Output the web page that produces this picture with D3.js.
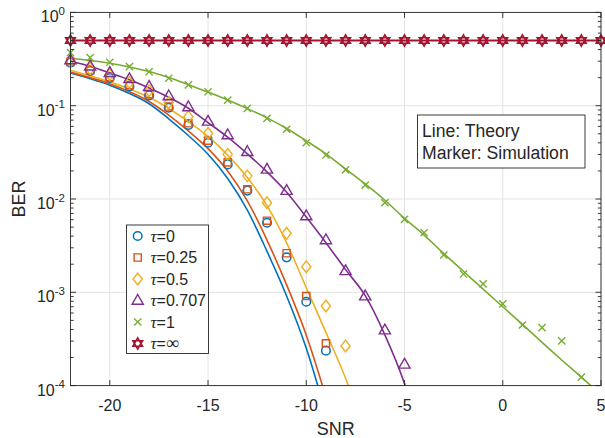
<!DOCTYPE html>
<html>
<head>
<meta charset="utf-8">
<script src="https://cdn.jsdelivr.net/npm/d3@7"></script>
<style>
  body { margin: 0; background: #fff; }
  text { font-family: "Liberation Sans", Arial, Helvetica, sans-serif; fill: #262626; }
</style>
</head>
<body>
<svg id="chart" width="605" height="438"></svg>
<script>
// ---- data ----
const snrGrid = [-22,-21,-20,-19,-18,-17,-16,-15,-14,-13,-12,-11,-10,-9,-8,-7,-6,-5,-4,-3,-2,-1,0,1,2,3,4,5];
const snrTicks = [-20, -15, -10, -5, 0, 5];
const berTickExponents = [0, -1, -2, -3, -4];
const tauLabels = ["0", "0.25", "0.5", "0.707", "1", "\u221E"];

// theory curves (values start at SNR = -22 dB, 1 dB step)
const theoryTau0    = [0.224,0.195,0.166,0.135,0.105,0.0724,0.0479,0.0302,0.0166,0.00759,0.00275,0.000912,0.000251,0.0000501];
const theoryTau025  = [0.229,0.200,0.172,0.141,0.111,0.0794,0.0537,0.0347,0.0200,0.00955,0.00363,0.00120,0.000347,0.0000759];
const theoryTau05   = [0.240,0.209,0.180,0.151,0.123,0.0933,0.0676,0.0468,0.0295,0.0170,0.00851,0.00339,0.00112,0.000372,0.000120,0.0000316];
const theoryTau0707 = [0.300,0.265,0.225,0.190,0.155,0.123,0.094,0.066,0.046,0.0305,0.0195,0.0118,0.0064,0.0034,0.00175,0.00092,0.00035,0.000105,0.00002];
const theoryTau1    = [0.320,0.305,0.285,0.260,0.232,0.200,0.168,0.140,0.115,0.093,0.074,0.057,0.042,0.0305,0.021,0.0145,0.0097,0.0062,0.0041,0.0026,0.00168,0.00108,0.0007,0.000454,0.00029,0.000188,0.000123,0.00008];
const theoryTauInf  = [0.5,0.5,0.5,0.5,0.5,0.5,0.5,0.5,0.5,0.5,0.5,0.5,0.5,0.5,0.5,0.5,0.5,0.5,0.5,0.5,0.5,0.5,0.5,0.5,0.5,0.5,0.5,0.5];

// simulated points (values start at SNR = -22 dB, 1 dB step)
const simTau0    = [0.290,0.236,0.198,0.161,0.129,0.095,0.0621,0.0401,0.0235,0.0123,0.00557,0.00237,0.000793,0.000237];
const simTau025  = [0.295,0.240,0.203,0.166,0.133,0.098,0.0648,0.0422,0.0247,0.0127,0.00585,0.00262,0.000912,0.000284];
const simTau05   = [0.300,0.250,0.215,0.178,0.145,0.108,0.0762,0.0506,0.0301,0.0177,0.00912,0.00429,0.00188,0.000713,0.000266];
const simTau0707 = [0.309,0.265,0.226,0.194,0.160,0.127,0.0968,0.068,0.0485,0.0321,0.0208,0.0123,0.00657,0.00364,0.0017,0.000912,0.000394,0.000169];
const simTau1    = [0.370,0.327,0.292,0.262,0.231,0.197,0.167,0.141,0.115,0.0938,0.0733,0.0559,0.0401,0.0296,0.0205,0.0141,0.00912,0.00606,0.00435,0.00251,0.00157,0.00123,0.00075,0.000446,0.000418,0.000301,0.000123];
const simTauInf  = [0.5,0.5,0.5,0.5,0.5,0.5,0.5,0.5,0.5,0.5,0.5,0.5,0.5,0.5,0.5,0.5,0.5,0.5,0.5,0.5,0.5,0.5,0.5,0.5,0.5,0.5,0.5,0.5];

const seriesColors = ["#0072BD", "#D95319", "#EDB120", "#7E2F8E", "#77AC30", "#A2142F"];
const markerTypes  = ["circle", "square", "diamond", "triangle", "cross", "hexagram"];

const theorySets = [theoryTau0, theoryTau025, theoryTau05, theoryTau0707, theoryTau1, theoryTauInf];
const simSets    = [simTau0, simTau025, simTau05, simTau0707, simTau1, simTauInf];

// ---- layout ----
const svg = d3.select("#chart");
const plot = { left: 70.5, right: 601, top: 12.4, bottom: 385.6 };
const axisColor = "#262626";

const x = d3.scaleLinear().domain([-22, 5]).range([plot.left, plot.right]);
const y = d3.scaleLog().domain([1e-4, 1]).range([plot.bottom, plot.top]);

svg.append("rect").attr("width", 605).attr("height", 438).attr("fill", "#fff");

svg.append("defs").append("clipPath").attr("id", "plotClip")
  .append("rect")
  .attr("x", plot.left).attr("y", plot.top)
  .attr("width", plot.right - plot.left).attr("height", plot.bottom - plot.top);

// grid
const grid = svg.append("g").attr("stroke", "#e3e3e3").attr("stroke-width", 1);
snrTicks.forEach(t => {
  grid.append("line").attr("x1", x(t)).attr("x2", x(t)).attr("y1", plot.top).attr("y2", plot.bottom);
});
berTickExponents.forEach(e => {
  const v = Math.pow(10, e);
  grid.append("line").attr("x1", plot.left).attr("x2", plot.right).attr("y1", y(v)).attr("y2", y(v));
});

// theory lines
const line = d3.line()
  .x((d, i) => x(snrGrid[i]))
  .y(d => y(d))
  .curve(d3.curveMonotoneX);

const lines = svg.append("g").attr("clip-path", "url(#plotClip)");
theorySets.forEach((vals, k) => {
  lines.append("path")
    .datum(vals)
    .attr("fill", "none")
    .attr("stroke", seriesColors[k])
    .attr("stroke-width", k === 5 ? 2 : 1.6)
    .attr("d", line);
});

// marker shapes
function markerPath(type) {
  switch (type) {
    case "square":   return "M-3.6,-3.6H3.6V3.6H-3.6Z";
    case "diamond":  return "M0,-5.8L4.6,0L0,5.8L-4.6,0Z";
    case "triangle": return "M0,-6L5.6,3.8L-5.6,3.8Z";
    case "cross":    return "M-3.6,-3.6L3.6,3.6M-3.6,3.6L3.6,-3.6";
    case "hexagram": return "M0,-5.6L4.85,2.8L-4.85,2.8ZM0,5.6L4.85,-2.8L-4.85,-2.8Z";
  }
  return null;
}
function drawMarker(g, type, color) {
  if (type === "circle") {
    g.append("circle").attr("r", 4.3).attr("fill", "none").attr("stroke", color).attr("stroke-width", 1.5);
  } else {
    g.append("path").attr("d", markerPath(type)).attr("fill", "none")
      .attr("stroke", color).attr("stroke-width", type === "hexagram" ? 1.6 : 1.4)
      .attr("stroke-linejoin", "miter");
  }
}

const markers = svg.append("g");
simSets.forEach((vals, k) => {
  vals.forEach((v, i) => {
    const g = markers.append("g").attr("transform", `translate(${x(snrGrid[i])},${y(v)})`);
    drawMarker(g, markerTypes[k], seriesColors[k]);
  });
});

// axes box and ticks
const axes = svg.append("g").attr("stroke", axisColor).attr("stroke-width", 0.9).attr("fill", "none");
axes.append("rect")
  .attr("x", plot.left).attr("y", plot.top)
  .attr("width", plot.right - plot.left).attr("height", plot.bottom - plot.top);

snrTicks.forEach(t => {
  axes.append("line").attr("x1", x(t)).attr("x2", x(t)).attr("y1", plot.bottom).attr("y2", plot.bottom - 5.5);
  axes.append("line").attr("x1", x(t)).attr("x2", x(t)).attr("y1", plot.top).attr("y2", plot.top + 5.5);
});
berTickExponents.forEach(e => {
  const yy = y(Math.pow(10, e));
  axes.append("line").attr("x1", plot.left).attr("x2", plot.left + 5.5).attr("y1", yy).attr("y2", yy);
  axes.append("line").attr("x1", plot.right).attr("x2", plot.right - 5.5).attr("y1", yy).attr("y2", yy);
});
for (let e = -4; e < 0; e++) {
  for (let m = 2; m <= 9; m++) {
    const yy = y(m * Math.pow(10, e));
    axes.append("line").attr("x1", plot.left).attr("x2", plot.left + 3.2).attr("y1", yy).attr("y2", yy);
    axes.append("line").attr("x1", plot.right).attr("x2", plot.right - 3.2).attr("y1", yy).attr("y2", yy);
  }
}

// tick labels
const tickLabels = svg.append("g");
snrTicks.forEach(t => {
  tickLabels.append("text")
    .attr("x", x(t)).attr("y", plot.bottom + 25)
    .attr("text-anchor", "middle")
    .attr("font-size", 16)
    .text(t);
});
berTickExponents.forEach(e => {
  const yy = y(Math.pow(10, e));
  const txt = tickLabels.append("text")
    .attr("x", 65).attr("y", yy + 10)
    .attr("text-anchor", "end")
    .attr("font-size", 16);
  txt.append("tspan").text("10");
  txt.append("tspan").attr("dy", -7.5).attr("font-size", 11.5).text(e);
});

// axis titles
svg.append("text")
  .attr("x", (plot.left + plot.right) / 2).attr("y", 435)
  .attr("text-anchor", "middle").attr("font-size", 18)
  .text("SNR");
svg.append("text")
  .attr("transform", `translate(25,${(plot.top + plot.bottom) / 2}) rotate(-90)`)
  .attr("text-anchor", "middle").attr("font-size", 18)
  .text("BER");

// annotation box
const note = svg.append("g");
note.append("rect")
  .attr("x", 417.5).attr("y", 115).attr("width", 167.5).attr("height", 53)
  .attr("fill", "#fff").attr("stroke", axisColor).attr("stroke-width", 0.9);
note.append("text").attr("x", 422).attr("y", 136.5).attr("font-size", 17.6).text("Line: Theory");
note.append("text").attr("x", 422).attr("y", 158.5).attr("font-size", 17.6).text("Marker: Simulation");

// legend
const legend = svg.append("g");
legend.append("rect")
  .attr("x", 126.5).attr("y", 225).attr("width", 82).attr("height", 128.5)
  .attr("fill", "#fff").attr("stroke", axisColor).attr("stroke-width", 0.9);
tauLabels.forEach((lab, k) => {
  const cy = 236 + k * 21.5;
  const g = legend.append("g").attr("transform", `translate(137.7,${cy})`);
  drawMarker(g, markerTypes[k], seriesColors[k]);
  const t = legend.append("text").attr("x", 150.5).attr("y", cy + 5.5).attr("font-size", 16);
  t.append("tspan")
    .attr("font-family", "'Liberation Serif', 'Times New Roman', serif")
    .attr("font-style", "italic").attr("font-size", 17)
    .text("\u03C4");
  t.append("tspan").text("=");
  if (lab === "\u221E") {
    t.append("tspan")
      .attr("font-family", "'Liberation Serif', 'Times New Roman', serif")
      .attr("font-size", 18)
      .text(lab);
  } else {
    t.append("tspan").text(lab);
  }
});
</script>
</body>
</html>
